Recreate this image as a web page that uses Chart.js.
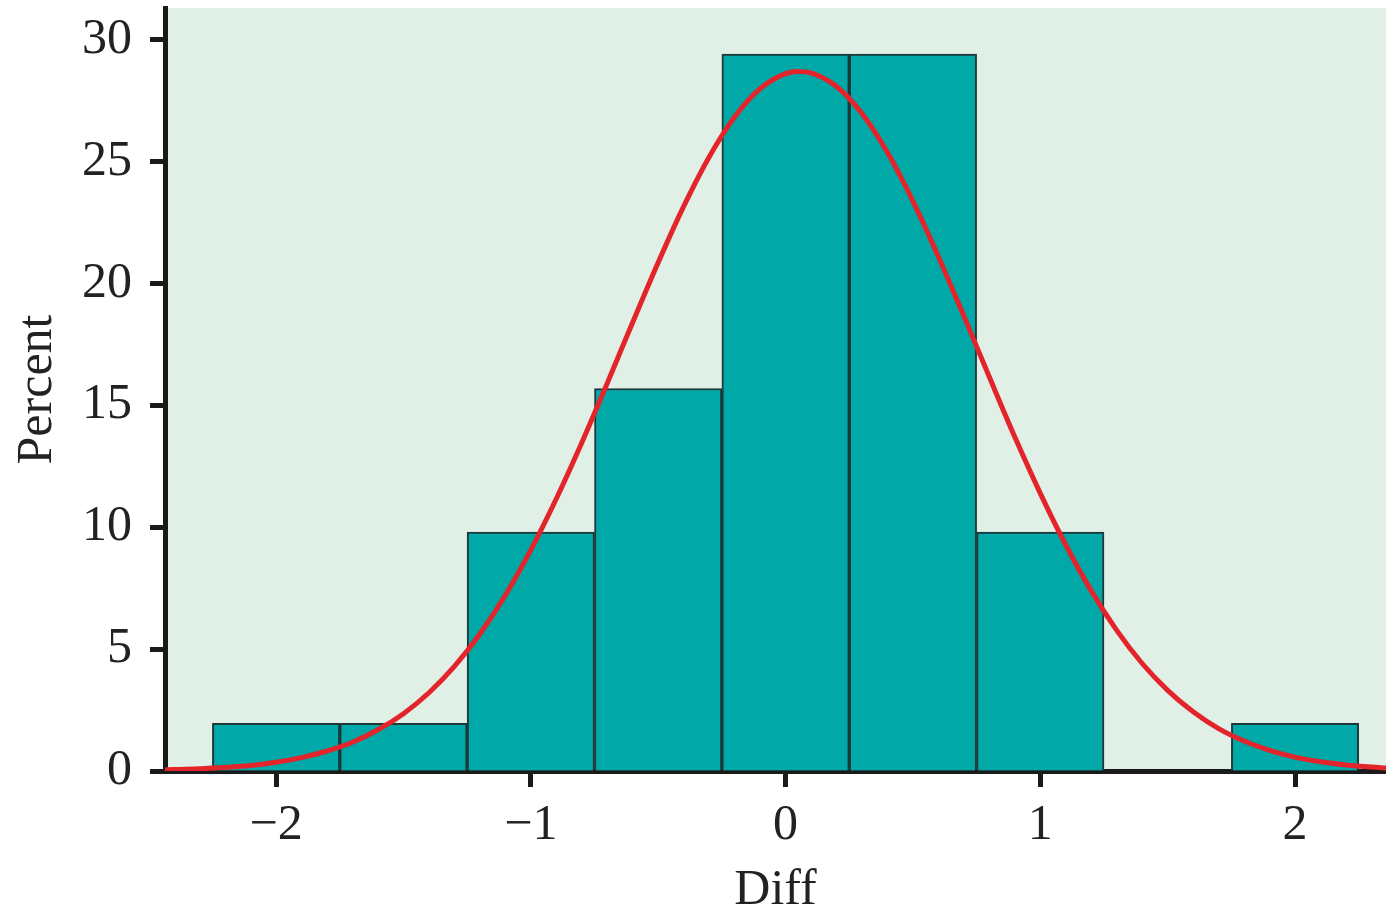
<!DOCTYPE html>
<html>
<head>
<meta charset="utf-8">
<title>Diff histogram</title>
<script src="https://cdn.jsdelivr.net/npm/chart.js@4"></script>
<style>
  html, body { margin: 0; padding: 0; background: #fff; }
  #wrap { width: 1386px; height: 913px; }
</style>
</head>
<body>
<div id="wrap"><canvas id="diffChart"></canvas></div>
<script>
// histogram bins (width 0.5), percent of observations
const binCenters = [-2, -1.5, -1, -0.5, 0, 0.5, 1, 1.5, 2];
const percents = [1.96, 1.96, 9.8, 15.69, 29.41, 29.41, 9.8, null, 1.96];

// fitted normal curve
const curveX = [-2.44, -2.4, -2.3, -2.2, -2.1, -2.0, -1.9, -1.8, -1.7, -1.6, -1.5, -1.4, -1.3, -1.2, -1.1,
  -1.0, -0.9, -0.8, -0.7, -0.6, -0.5, -0.4, -0.3, -0.2, -0.1, 0, 0.05, 0.1, 0.2, 0.3, 0.4, 0.5, 0.6,
  0.7, 0.8, 0.9, 1.0, 1.1, 1.2, 1.3, 1.4, 1.5, 1.6, 1.7, 1.8, 1.9, 2.0, 2.1, 2.2, 2.3, 2.36];
const curveY = [0.04, 0.06, 0.09, 0.15, 0.23, 0.36, 0.55, 0.82, 1.18, 1.69, 2.35, 3.21, 4.29, 5.62, 7.21,
  9.07, 11.17, 13.47, 15.91, 18.41, 20.86, 23.16, 25.19, 26.83, 27.99, 28.61, 28.7, 28.64, 28.08, 26.97, 25.37, 23.38, 21.1,
  18.66, 16.16, 13.7, 11.39, 9.27, 7.39, 5.77, 4.41, 3.31, 2.43, 1.74, 1.23, 0.85, 0.57, 0.38, 0.25, 0.16, 0.12];

const xTicks = [-2, -1, 0, 1, 2];
const yTicks = [0, 5, 10, 15, 20, 25, 30];

Chart.defaults.font.family = '"Liberation Serif", "DejaVu Serif", serif';
Chart.defaults.color = '#222';

const plotBackground = {
  id: 'plotBackground',
  beforeDraw(chart) {
    const { ctx, chartArea: a } = chart;
    ctx.save();
    ctx.fillStyle = '#e0f0e6';
    ctx.fillRect(a.left, a.top, a.right - a.left, a.bottom - a.top);
    ctx.restore();
  }
};

const ctx = document.getElementById('diffChart').getContext('2d');

new Chart(ctx, {
  type: 'bar',
  data: {
    datasets: [
      {
        type: 'line',
        label: 'Normal',
        data: curveX.map((x, i) => ({ x: x, y: curveY[i] })),
        borderColor: '#e3252b',
        borderWidth: 5,
        pointRadius: 0,
        cubicInterpolationMode: 'monotone',
        fill: false,
        order: 0
      },
      {
        label: 'Percent',
        data: binCenters.map((x, i) => ({ x: x, y: percents[i] })),
        backgroundColor: '#00a8a8',
        borderColor: '#1d3838',
        borderWidth: 2,
        barPercentage: 1,
        categoryPercentage: 1,
        order: 1
      }
    ]
  },
  options: {
    responsive: true,
    maintainAspectRatio: false,
    animation: false,
    events: [],
    layout: { padding: { top: 8, right: 0, left: 0, bottom: 0 } },
    plugins: {
      legend: { display: false },
      tooltip: { enabled: false }
    },
    scales: {
      x: {
        type: 'linear',
        min: -2.436,
        max: 2.357,
        offset: false,
        afterFit: (s) => { s.height = 142; s.paddingLeft = 0; s.paddingRight = 0; },
        afterBuildTicks: (s) => { s.ticks = xTicks.map(v => ({ value: v })); },
        grid: { offset: false, drawOnChartArea: false, tickLength: 16, tickWidth: 5, tickColor: '#1a1a1a' },
        border: { display: true, width: 5, color: '#1a1a1a' },
        ticks: {
          font: { size: 50, lineHeight: 1.2 },
          padding: 9,
          callback: (v) => String(v).replace('-', '\u2212')
        },
        title: {
          display: true,
          text: 'Diff',
          font: { size: 50, lineHeight: 0.9 },
          padding: { top: 0, bottom: 0 }
        }
      },
      y: {
        type: 'linear',
        min: 0,
        max: 31.3,
        afterFit: (s) => { s.width = 165; s.paddingTop = 0; s.paddingBottom = 0; },
        afterBuildTicks: (s) => { s.ticks = yTicks.map(v => ({ value: v })); },
        grid: { drawOnChartArea: false, tickLength: 15, tickWidth: 5, tickColor: '#1a1a1a' },
        border: { display: true, width: 5, color: '#1a1a1a' },
        ticks: {
          font: { size: 50 },
          padding: 18
        },
        title: {
          display: true,
          text: 'Percent',
          font: { size: 50, lineHeight: 1 },
          padding: { top: 13, bottom: 0 }
        }
      }
    }
  },
  plugins: [plotBackground]
});
</script>
</body>
</html>
